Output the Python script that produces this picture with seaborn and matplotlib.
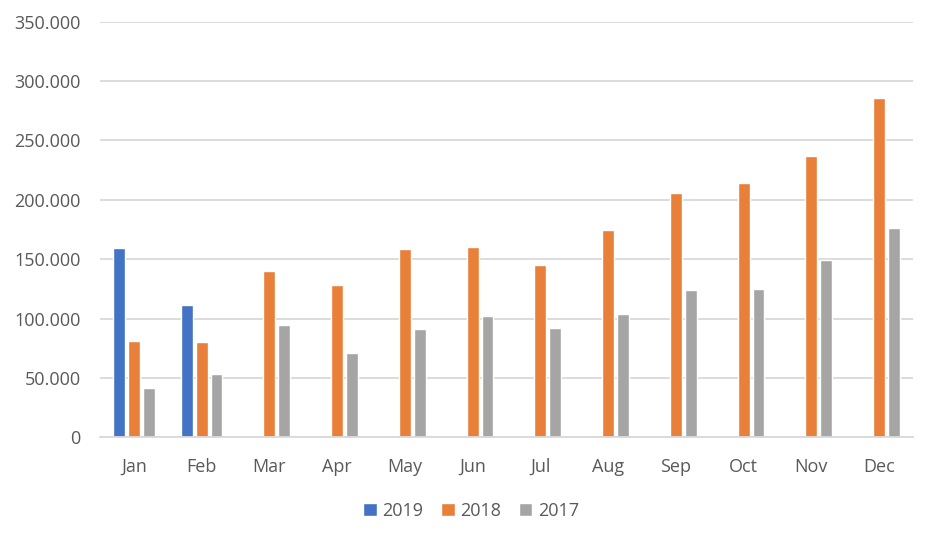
import numpy as np
import pandas as pd
import matplotlib
matplotlib.use("Agg")
import matplotlib.pyplot as plt
import seaborn as sns
from matplotlib.ticker import FuncFormatter

months = ["Jan", "Feb", "Mar", "Apr", "May", "Jun", "Jul", "Aug", "Sep", "Oct", "Nov", "Dec"]
years = ["2019", "2018", "2017"]
v2019 = [159000, 111400, np.nan, np.nan, np.nan, np.nan, np.nan, np.nan, np.nan, np.nan, np.nan, np.nan]
v2018 = [81300, 80500, 140300, 128200, 158500, 160200, 144800, 174800, 205900, 214100, 236800, 285400]
v2017 = [41300, 53000, 94600, 71300, 90900, 101900, 92300, 104100, 123700, 125100, 149000, 175900]
colors = ["#4472C4", "#E8803A", "#A5A5A5"]

rows = []
for yr, vals in zip(years, [v2019, v2018, v2017]):
    for m, v in zip(months, vals):
        rows.append({"month": m, "year": yr, "value": v})
df = pd.DataFrame(rows)

sns.set_theme(style="white")
plt.rcParams["font.family"] = ["Open Sans", "DejaVu Sans"]

fig = plt.figure(figsize=(9.39, 5.42), dpi=100)
ax = fig.add_axes([100/939, 1-437.3/542, (913-100)/939, (437.3-21.7)/542])

sns.barplot(data=df, x="month", y="value", hue="year", order=months, hue_order=years,
            palette=colors, width=0.66, gap=0.2, errorbar=None, ax=ax, saturation=1,
            legend=True)

ax.set_ylim(0, 350000)
ax.set_xlim(-0.5, 11.5)
ax.set_yticks(np.arange(0, 350001, 50000))
ax.yaxis.set_major_formatter(FuncFormatter(lambda v, p: f"{int(v):,}".replace(",", ".")))
ax.grid(axis="y", color="#D9D9D9", linewidth=1.3)
ax.set_axisbelow(True)
for s in ["top", "right", "left"]:
    ax.spines[s].set_visible(False)
ax.spines["bottom"].set_color("#D9D9D9")
ax.spines["bottom"].set_linewidth(1.3)
ax.tick_params(axis="both", length=0, labelsize=13, colors="#595959")
ax.tick_params(axis="y", pad=14)
ax.tick_params(axis="x", pad=15)
ax.set_xlabel("")
ax.set_ylabel("")

handles, labels = ax.get_legend_handles_labels()
ax.get_legend().remove()
fig.legend(handles, labels, loc="center", bbox_to_anchor=(471/939, 1-511/542), ncol=3,
           frameon=False, handlelength=0.75, handleheight=0.75, handletextpad=0.3,
           columnspacing=1.0, fontsize=13, labelcolor="#595959")

fig.savefig("out.png", dpi=100, facecolor="white")
